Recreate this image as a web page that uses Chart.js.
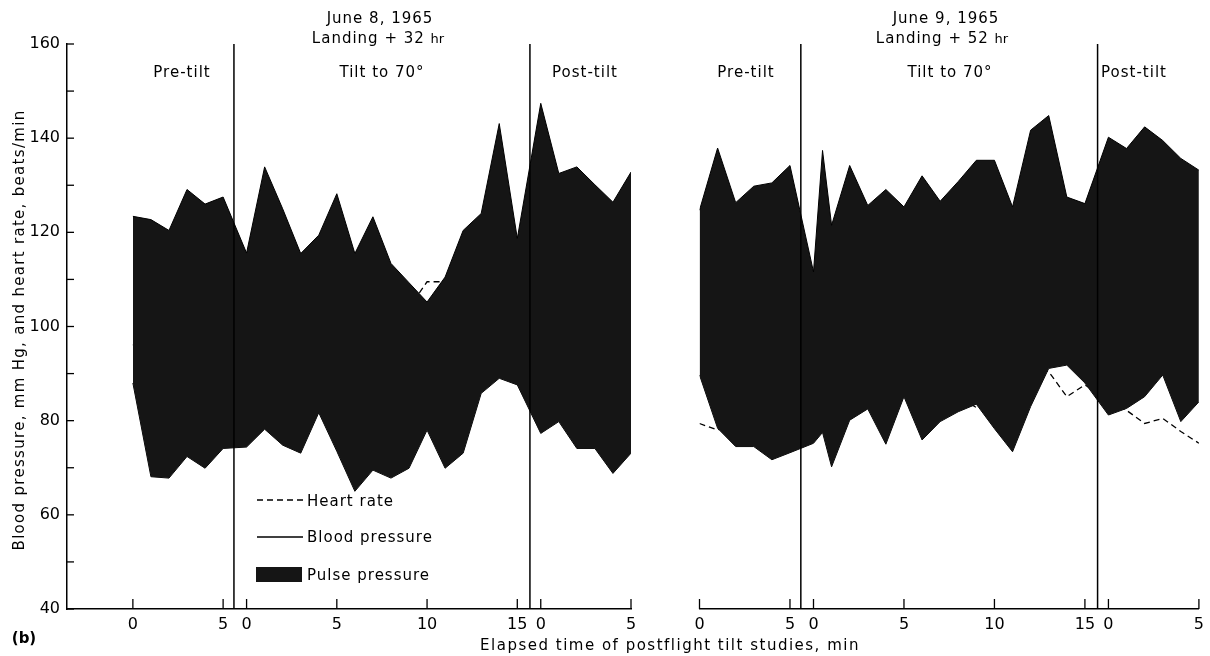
<!DOCTYPE html>
<html>
<head>
<meta charset="utf-8">
<title>Postflight tilt studies</title>
<script src="https://cdn.jsdelivr.net/npm/chart.js@4.4.1/dist/chart.umd.min.js"></script>
<style>
  body { margin: 0; background: #fff; }
  #wrap { position: relative; width: 1210px; height: 656px; overflow: hidden;
          font-family: "DejaVu Sans", sans-serif; color: #000; }
  canvas { position: absolute; top: 0; }
  #leftChart { left: 0; }
  #rightChart { left: 650px; }
  .txt { position: absolute; font-size: 15px; letter-spacing: 1px; white-space: nowrap;
         transform: translate(-50%, -50%); }
  .small { font-size: 13px; letter-spacing: 0; }
  .leg { position: absolute; font-size: 15px; letter-spacing: 1px; white-space: nowrap;
         transform: translateY(-50%); }
  #ytitle { position: absolute; left: 19px; top: 330px; font-size: 15px; letter-spacing: 1.3px;
            white-space: nowrap; transform: translate(-50%, -50%) rotate(-90deg); }
  #xtitle { letter-spacing: 1.5px; }
  #swatch { position: absolute; left: 256px; top: 567px; width: 46px; height: 15px; background: #151515; }
</style>
</head>
<body>
<div id="wrap">
  <canvas id="leftChart" width="650" height="656"></canvas>
  <canvas id="rightChart" width="560" height="656"></canvas>

  <div class="txt" style="left:380px; top:18px">June 8, 1965</div>
  <div class="txt" style="left:378px; top:38px">Landing + 32 <span class="small">hr</span></div>
  <div class="txt" style="left:946px; top:18px">June 9, 1965</div>
  <div class="txt" style="left:942px; top:38px">Landing + 52 <span class="small">hr</span></div>

  <div class="txt" style="left:182px; top:72px">Pre-tilt</div>
  <div class="txt" style="left:382px; top:72px">Tilt to 70°</div>
  <div class="txt" style="left:585px; top:72px">Post-tilt</div>
  <div class="txt" style="left:746px; top:72px">Pre-tilt</div>
  <div class="txt" style="left:950px; top:72px">Tilt to 70°</div>
  <div class="txt" style="left:1134px; top:72px">Post-tilt</div>

  <!-- legend -->
  <svg style="position:absolute; left:256px; top:495px" width="48" height="10">
    <line x1="1" y1="5" x2="47" y2="5" stroke="#000" stroke-width="1.4" stroke-dasharray="6,4"/>
  </svg>
  <div class="leg" style="left:307px; top:501px">Heart rate</div>
  <svg style="position:absolute; left:256px; top:532px" width="48" height="10">
    <line x1="1" y1="5" x2="47" y2="5" stroke="#000" stroke-width="1.4"/>
  </svg>
  <div class="leg" style="left:307px; top:537px">Blood pressure</div>
  <div id="swatch"></div>
  <div class="leg" style="left:307px; top:575px">Pulse pressure</div>

  <div id="ytitle">Blood pressure, mm Hg, and heart rate, beats/min</div>
  <div id="xtitle" class="txt" style="left:670px; top:645px">Elapsed time of postflight tilt studies, min</div>
  <div class="txt" style="left:24px; top:638px; font-weight:bold; letter-spacing:0">(b)</div>
</div>

<script>
// -----------------------------
// DATA
// -----------------------------
const preTime = [0, 1, 2, 3, 4, 5];
const postTime = [0, 1, 2, 3, 4, 5];
const jun8TiltTime = [0, 1, 2, 3, 4, 5, 6, 7, 8, 9, 10, 11, 12, 13, 14, 15];
const jun9TiltTime = [0, 0.5, 1, 2, 3, 4, 5, 6, 7, 8, 9, 10, 11, 12, 13, 14, 15];

// June 8, 1965 - landing + 32 hr
const jun8PreSys  = [123.4, 122.7, 120.4, 129.1, 126.0, 127.5];
const jun8PreDia  = [88.0, 68.1, 67.8, 72.4, 69.9, 74.1];
const jun8PreHr   = [96, 98, 101, 100, 102, 101];
const jun8TiltSys = [115.6, 133.9, 125.0, 115.5, 119.4, 128.2, 115.5, 123.3, 113.4, 109.3, 105.2, 110.5, 120.4, 124.0, 143.1, 118.7];
const jun8TiltDia = [74.4, 78.2, 74.8, 73.1, 81.7, 73.5, 65.0, 69.5, 67.8, 69.9, 78.0, 69.9, 73.1, 85.8, 89.0, 87.6];
const jun8TiltHr  = [99, 103, 104, 101, 100, 101, 99, 97, 99, 104, 109.5, 109.5, 108, 110, 112, 111];
const jun8PostSys = [147.4, 132.5, 133.9, 130.1, 126.4, 132.8];
const jun8PostDia = [77.3, 79.8, 74.1, 74.1, 68.8, 73.1];
const jun8PostHr  = [108, 106, 105, 103, 102, 103];

// June 9, 1965 - landing + 52 hr
const jun9PreSys  = [124.7, 137.9, 126.3, 129.8, 130.5, 134.2];
const jun9PreDia  = [89.7, 78.4, 74.5, 74.5, 71.7, 73.2];
const jun9PreHr   = [79.4, 78.0, 80, 82, 84, 86];
const jun9TiltSys = [111.6, 137.4, 121.5, 134.2, 125.7, 129.1, 125.4, 132.0, 126.6, 130.8, 135.3, 135.3, 125.4, 141.7, 144.8, 127.5, 126.1];
const jun9TiltDia = [75.2, 77.5, 70.2, 80.1, 82.5, 75.0, 85.1, 75.9, 79.8, 81.9, 83.5, 78.3, 73.4, 83.0, 91.1, 91.8, 88.0];
const jun9TiltHr  = [90, 92, 90, 91, 92, 90, 91, 89, 88, 85, 82.8, 85, 87, 92, 90.4, 85.1, 87.6];
const jun9PostSys = [140.2, 137.8, 142.4, 139.5, 135.7, 133.2];
const jun9PostDia = [81.2, 82.6, 85.1, 89.7, 79.8, 84.0];
const jun9PostHr  = [84.5, 82.2, 79.4, 80.5, 77.7, 75.2];

// axis: where each phase's minute 0 sits on the shared time axis, and phase limits
const phaseStart = { pre: 0, tilt: 6.3, post: 22.6 };
const phaseBounds = [5.6, 22.0];
const xTickValues = [0, 5, 6.3, 11.3, 16.3, 21.3, 22.6, 27.6];
const xTickLabels = ["0", "5", "0", "5", "10", "15", "0", "5"];
const yMin = 40, yMax = 160;

// -----------------------------
// HELPERS
// -----------------------------
function series(tiltTime, pre, tilt, post) {
  return [
    ...preTime.map((t, i) => ({ x: phaseStart.pre + t, y: pre[i] })),
    ...tiltTime.map((t, i) => ({ x: phaseStart.tilt + t, y: tilt[i] })),
    ...postTime.map((t, i) => ({ x: phaseStart.post + t, y: post[i] }))
  ];
}

function datasets(tiltTime, d) {
  return [
    { label: "Heart rate", data: series(tiltTime, d.preHr, d.tiltHr, d.postHr),
      borderColor: "#000", borderWidth: 1.3, borderDash: [6, 4], pointRadius: 0, fill: false, order: 2 },
    { label: "Systolic", data: series(tiltTime, d.preSys, d.tiltSys, d.postSys),
      borderColor: "#000", borderWidth: 1, pointRadius: 0, fill: "+1", backgroundColor: "#151515", order: 1 },
    { label: "Diastolic", data: series(tiltTime, d.preDia, d.tiltDia, d.postDia),
      borderColor: "#000", borderWidth: 1, pointRadius: 0, fill: false, order: 1 }
  ];
}

// vertical lines between pre-tilt / tilt / post-tilt
const phaseLines = {
  id: "phaseLines",
  afterDatasetsDraw(chart) {
    const { ctx, chartArea, scales: { x } } = chart;
    ctx.save();
    ctx.strokeStyle = "#000";
    ctx.lineWidth = 1.5;
    phaseBounds.forEach(b => {
      const px = x.getPixelForValue(b);
      ctx.beginPath();
      ctx.moveTo(px, chartArea.top);
      ctx.lineTo(px, chartArea.bottom);
      ctx.stroke();
    });
    ctx.restore();
  }
};

// tick marks pointing into the plot, as in the original
const innerTicks = {
  id: "innerTicks",
  afterDraw(chart) {
    const { ctx, chartArea, scales } = chart;
    ctx.save();
    ctx.strokeStyle = "#000";
    ctx.lineWidth = 1.3;
    scales.x.ticks.forEach(t => {
      const px = scales.x.getPixelForValue(t.value);
      ctx.beginPath();
      ctx.moveTo(px, chartArea.bottom);
      ctx.lineTo(px, chartArea.bottom - 10);
      ctx.stroke();
    });
    if (scales.y.options.display) {
      scales.y.ticks.forEach(t => {
        const py = scales.y.getPixelForValue(t.value);
        ctx.beginPath();
        ctx.moveTo(chartArea.left, py);
        ctx.lineTo(chartArea.left + 7, py);
        ctx.stroke();
      });
    }
    ctx.restore();
  }
};

function makeChart(id, tiltTime, d, showY, xMin, padding) {
  return new Chart(document.getElementById(id), {
    type: "line",
    data: { datasets: datasets(tiltTime, d) },
    options: {
      responsive: false,
      animation: false,
      layout: { padding },
      plugins: { legend: { display: false }, tooltip: { enabled: false } },
      scales: {
        x: {
          type: "linear",
          min: xMin,
          max: 27.6,
          afterBuildTicks: s => { s.ticks = xTickValues.map(v => ({ value: v })); },
          afterFit: s => { s.height = 47; },
          ticks: {
            autoSkip: false, maxRotation: 0, padding: 6, color: "#000",
            font: { family: "DejaVu Sans", size: 16 },
            callback: (v, i) => xTickLabels[i]
          },
          grid: { display: true, drawOnChartArea: false, drawTicks: false },
          border: { display: true, color: "#000", width: 1.5 }
        },
        y: {
          display: showY,
          min: yMin,
          max: yMax,
          afterFit: s => { if (showY) s.width = 67; },
          ticks: {
            stepSize: 10, padding: 7, color: "#000",
            font: { family: "DejaVu Sans", size: 16 },
            callback: v => (v % 20 === 0 ? v : "")
          },
          grid: { display: true, drawOnChartArea: false, drawTicks: false },
          border: { display: true, color: "#000", width: 1.5 }
        }
      }
    },
    plugins: [phaseLines, innerTicks]
  });
}

makeChart("leftChart", jun8TiltTime, {
  preSys: jun8PreSys, preDia: jun8PreDia, preHr: jun8PreHr,
  tiltSys: jun8TiltSys, tiltDia: jun8TiltDia, tiltHr: jun8TiltHr,
  postSys: jun8PostSys, postDia: jun8PostDia, postHr: jun8PostHr
}, true, -3.65, { left: 0, right: 19, top: 44, bottom: 0 });

makeChart("rightChart", jun9TiltTime, {
  preSys: jun9PreSys, preDia: jun9PreDia, preHr: jun9PreHr,
  tiltSys: jun9TiltSys, tiltDia: jun9TiltDia, tiltHr: jun9TiltHr,
  postSys: jun9PostSys, postDia: jun9PostDia, postHr: jun9PostHr
}, false, 0, { left: 49.5, right: 7, top: 44, bottom: 0 });
</script>
</body>
</html>
